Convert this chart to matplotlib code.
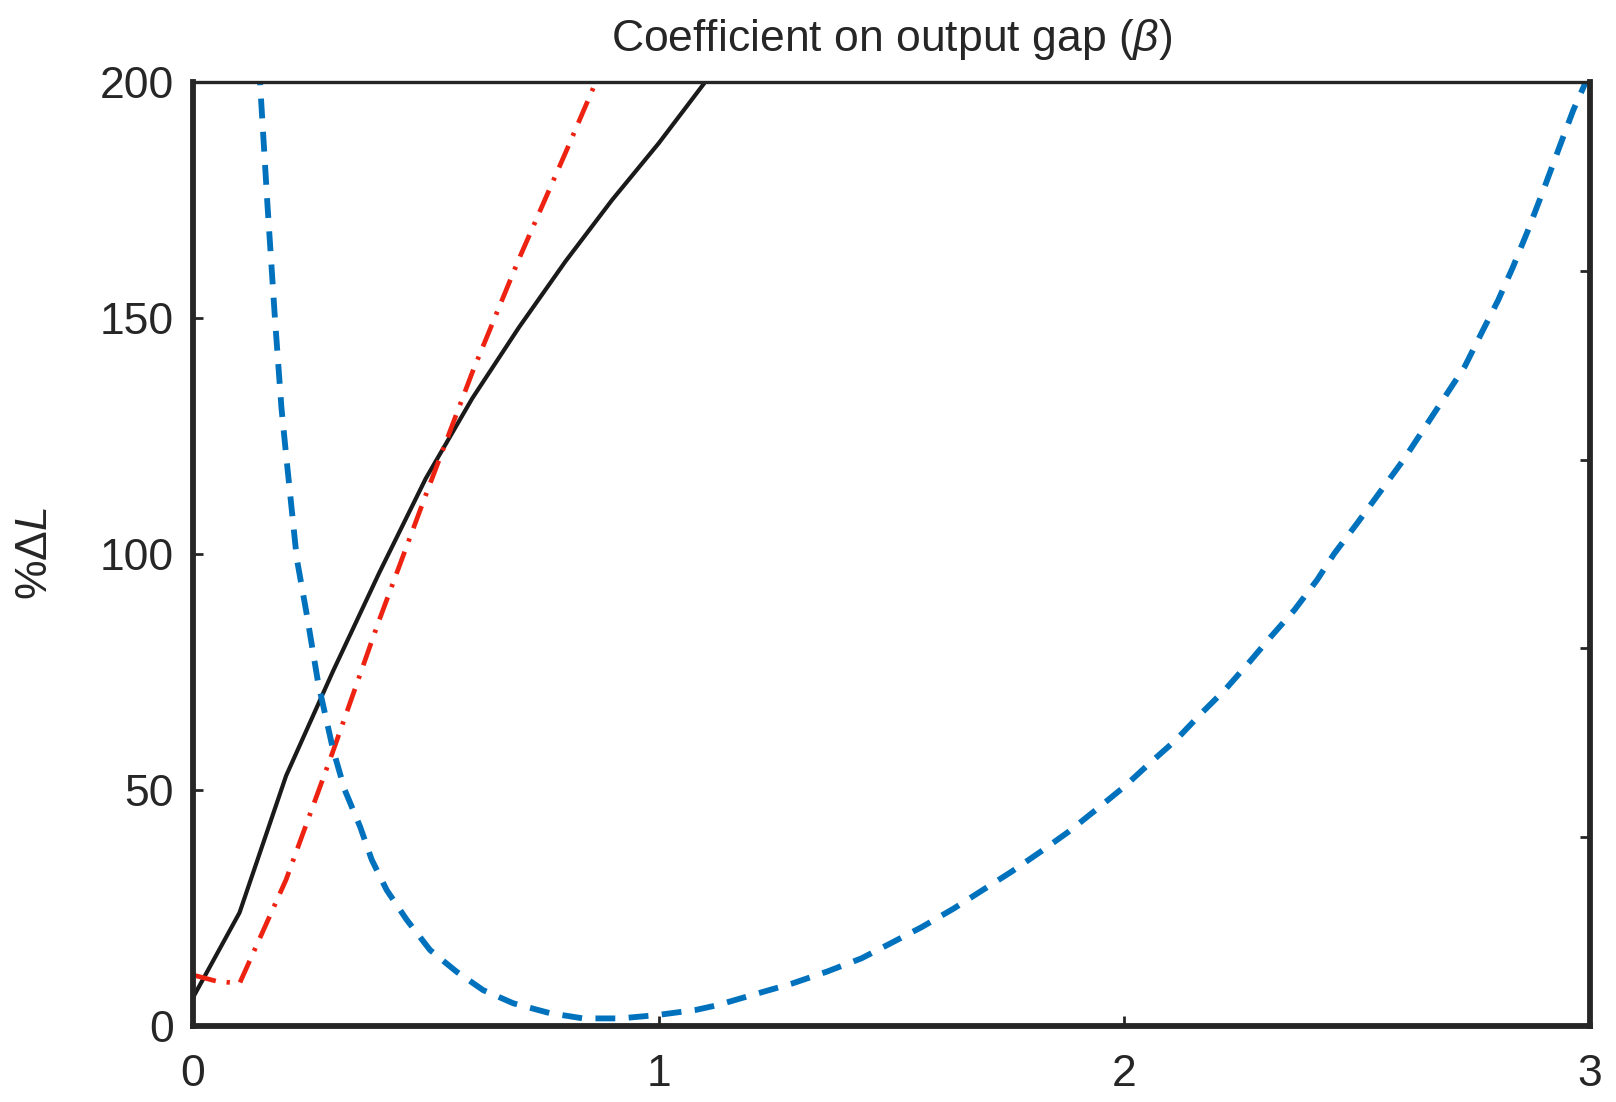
import numpy as np
import matplotlib.pyplot as plt

# Loss (%ΔL) against the coefficient on the output gap (beta)
beta_black = [0.0, 0.1, 0.2, 0.3, 0.4, 0.5, 0.6, 0.7, 0.8, 0.9, 1.0, 1.1, 1.2]
loss_black = [6, 24, 53, 75, 96, 116, 133, 148, 162, 175, 187, 200, 212]

beta_red = [0.0, 0.05, 0.1, 0.2, 0.3, 0.4, 0.5, 0.6, 0.7, 0.8, 0.9]
loss_red = [10.8, 9.5, 9.0, 31, 58, 86, 112.5, 138.5, 162.5, 185, 208]

beta_blue = [0.13, 0.144, 0.16, 0.176, 0.19, 0.2, 0.223, 0.244, 0.269, 0.301, 0.326,
             0.359, 0.384, 0.416, 0.459, 0.509, 0.566, 0.623, 0.688, 0.767, 0.838,
             0.917, 0.996, 1.08, 1.126, 1.213, 1.287, 1.361, 1.435, 1.498, 1.566,
             1.634, 1.696, 1.758, 1.82, 1.881, 1.943, 2.0, 2.055, 2.111, 2.166,
             2.216, 2.266, 2.315, 2.365, 2.414, 2.451, 2.5, 2.6, 2.731, 2.767,
             2.803, 2.835, 2.867, 2.9, 2.932, 2.964, 3.0]
loss_blue = [226, 200, 174, 150, 131, 121, 99, 87.4, 72.6, 58.5, 50,
             42.2, 35.2, 28.8, 22.5, 16.1, 11.5, 7.6, 4.8, 2.7, 1.6,
             1.6, 2.3, 3.4, 4.4, 6.9, 9.0, 11.5, 14.3, 17.5, 21.0,
             24.9, 28.8, 32.7, 36.9, 41.2, 46.1, 50.7, 55.7, 60.6, 66.3,
             71.2, 76.8, 82.5, 88.1, 94.5, 100.1, 106.5, 120, 139.7, 146.8,
             153.8, 160.9, 168.6, 177.1, 185.6, 194, 202]

x_ticks = [0, 1, 2, 3]
y_ticks = [0, 50, 100, 150, 200]
y_ticks_right = [40, 80, 120, 160]

AX_COL = '#262626'
BLUE = '#0072BD'
RED = '#EE2211'

plt.rcParams['font.family'] = ['Liberation Sans', 'DejaVu Sans']
plt.rcParams['mathtext.fontset'] = 'custom'
plt.rcParams['mathtext.rm'] = 'Liberation Sans'
plt.rcParams['mathtext.it'] = 'Liberation Sans:italic'

fig = plt.figure(figsize=(16.16, 11.02), dpi=100)
ax = fig.add_axes([0.1194, 0.069, 0.8645, 0.8566])

ax.plot(beta_black, loss_black, color='#1a1a1a', lw=3.0, solid_joinstyle='round')
ax.plot(beta_red, loss_red, color=RED, lw=3.4, linestyle=(0, (5.0, 2.3, 0.7, 2.3)))
ax.plot(beta_blue, loss_blue, color=BLUE, lw=4.2, linestyle=(0, (3.4, 2.3)))

ax.set_xlim(0, 3)
ax.set_ylim(0, 200)
ax.set_xticks(x_ticks)
ax.set_yticks(y_ticks)
ax.set_xticklabels([str(v) for v in x_ticks])
ax.set_yticklabels([str(v) for v in y_ticks])

for side in ['left', 'bottom', 'right']:
    ax.spines[side].set_linewidth(4.2)
    ax.spines[side].set_color(AX_COL)
ax.spines['top'].set_linewidth(2.4)
ax.spines['top'].set_color(AX_COL)

ax.tick_params(axis='both', direction='in', length=7, width=2.0, color=AX_COL,
               labelsize=32, labelcolor=AX_COL)
ax.tick_params(axis='x', pad=20)
ax.tick_params(axis='y', pad=14)

# right-hand ticks belong to a second (unlabelled) axis
axr = ax.twinx()
axr.set_ylim(0, 200)
axr.set_yticks(y_ticks_right)
axr.set_yticklabels([])
axr.tick_params(axis='y', direction='in', length=7, width=2.0, color=AX_COL)
for s in axr.spines.values():
    s.set_visible(False)

ax.set_title(r'Coefficient on output gap ($\beta$)', fontsize=32, color=AX_COL, pad=22)
ax.set_ylabel(r'%$\Delta L$', fontsize=32, color=AX_COL)
ax.yaxis.set_label_coords(-0.098, 0.5)

fig.savefig('out.png', dpi=100, facecolor='white')
